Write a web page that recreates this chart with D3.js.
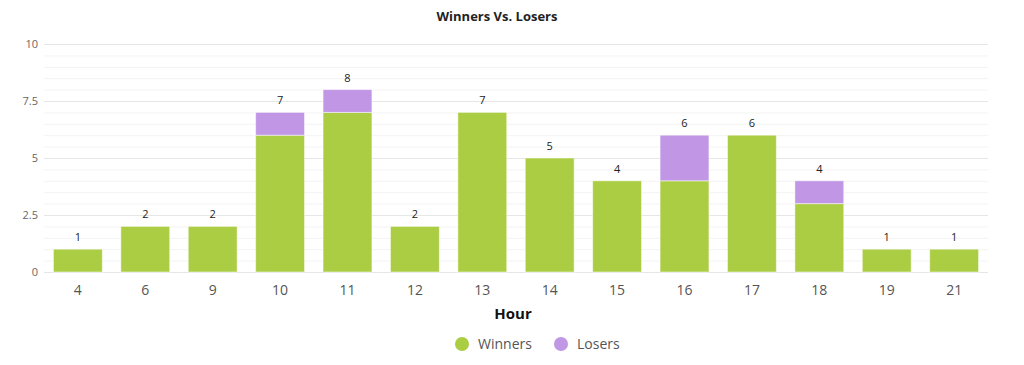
<!DOCTYPE html>
<html><head><meta charset="utf-8">
<script src="https://cdn.jsdelivr.net/npm/d3@7"></script>
<style>body{margin:0;background:#fff;font-family:"Open Sans",Arial,sans-serif}</style>
</head><body><svg id="c" width="1024" height="365"></svg>
<script>
const hours = ["4","6","9","10","11","12","13","14","15","16","17","18","19","21"];
const winners = [1,2,2,6,7,2,7,5,4,4,6,3,1,1];
const losers  = [0,0,0,1,1,0,0,0,0,2,0,1,0,0];
const yTicks = [0,2.5,5,7.5,10];
const seriesNames = ["Winners","Losers"];
const colors = ["#abcd43","#c096e5"];

const svg = d3.select("#c");
const m = {l:44, r:36, t:44, b:93};
const W = 1024, H = 365;
const x = d3.scaleBand().domain(hours).range([m.l, W-m.r]).paddingInner(0.275).paddingOuter(0.14);
const y = d3.scaleLinear().domain([0,10]).range([H-m.b, m.t]);

svg.append("text").attr("x",497).attr("y",21).attr("text-anchor","middle")
  .attr("font-size",13).attr("font-weight","bold").attr("fill","#222").text("Winners Vs. Losers");

// minor grid
const minor = d3.range(0,10.01,0.5).filter(v=>yTicks.indexOf(v)<0);
svg.append("g").selectAll("line").data(minor).join("line")
  .attr("x1",m.l).attr("x2",W-m.r).attr("y1",d=>y(d)+0.5).attr("y2",d=>y(d)+0.5)
  .attr("stroke","#f3f3f3");
const ya = svg.append("g").attr("transform",`translate(${m.l},0)`)
  .call(d3.axisLeft(y).tickValues(yTicks).tickSize(-(W-m.l-m.r)).tickPadding(6).tickFormat(d=>d));
ya.select(".domain").remove();
ya.selectAll("line").attr("stroke","#e6e6e6");
ya.selectAll("text").attr("font-size",11).attr("fill","#666").attr("font-family","Open Sans, Arial, sans-serif");

const data = hours.map((h,i)=>({h, w:winners[i], l:losers[i]}));
const stack = d3.stack().keys(["w","l"])(data);
svg.append("g").selectAll("g").data(stack).join("g")
  .attr("fill",(d,i)=>colors[i])
  .selectAll("rect").data(d=>d.filter(s=>s[1]>s[0])).join("rect")
  .attr("x",d=>x(d.data.h)).attr("width",x.bandwidth())
  .attr("y",d=>y(d[1])).attr("height",d=>y(d[0])-y(d[1]))
  .attr("stroke","#fff").attr("stroke-opacity",0.5).attr("stroke-width",1);

svg.append("g").selectAll("text").data(data).join("text")
  .attr("x",d=>x(d.h)+x.bandwidth()/2).attr("y",d=>y(d.w+d.l)-8)
  .attr("text-anchor","middle").attr("font-size",11).attr("fill","#222")
  .text(d=>d.w+d.l);

const xa = svg.append("g").attr("transform",`translate(0,${H-m.b})`)
  .call(d3.axisBottom(x).tickSize(0).tickPadding(13));
xa.select(".domain").remove();
xa.selectAll("text").attr("font-size",14).attr("fill","#555").attr("font-family","Open Sans, Arial, sans-serif");

svg.append("text").attr("x",513).attr("y",319).attr("text-anchor","middle")
  .attr("font-size",15).attr("font-weight","bold").attr("fill","#111").text("Hour");

const lg = svg.append("g");
const lx = [462, 561];
seriesNames.forEach((n,i)=>{
  lg.append("circle").attr("cx",lx[i]).attr("cy",344).attr("r",7).attr("fill",colors[i]);
  lg.append("text").attr("x",lx[i]+16).attr("y",349).attr("font-size",14).attr("fill","#555").text(n);
});
</script></body></html>
